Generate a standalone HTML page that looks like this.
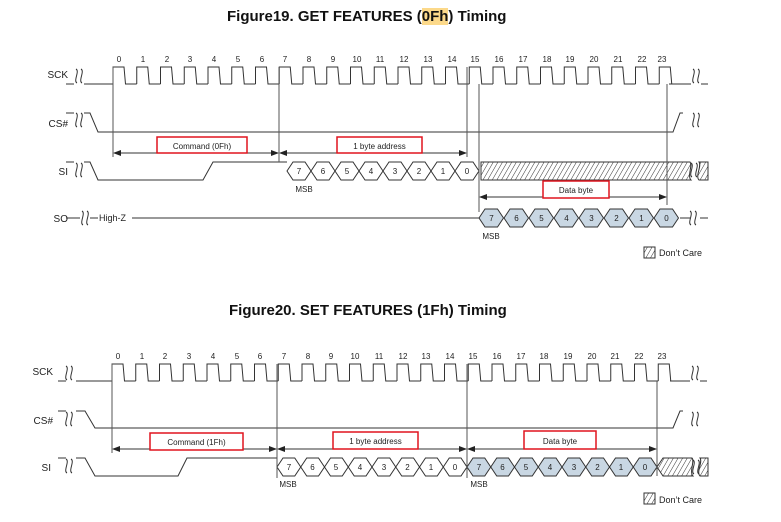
<!DOCTYPE html>
<html><head><meta charset="utf-8"><style>
html,body{margin:0;padding:0;background:#fff;}
body{position:relative;width:781px;height:522px;overflow:hidden;}
svg{display:block;font-family:"Liberation Sans",sans-serif;}
.t{font-size:9px;fill:#222;}
.n{font-size:8px;fill:#222;text-anchor:middle;}
.lb{font-size:10px;fill:#222;text-anchor:end;}
.ti{position:absolute;font-family:"Liberation Sans",sans-serif;font-size:15px;font-weight:bold;color:#111;line-height:18px;white-space:nowrap;}
.hl{background:#fcd98a;}
</style></head><body>
<div class="ti" style="left:227px;top:8px;">Figure19.  GET FEATURES (<span class="hl">0Fh</span>) Timing</div>
<div class="ti" style="left:229px;top:302px;">Figure20. SET FEATURES (1Fh) Timing</div>
<svg width="781" height="522" viewBox="0 0 781 522" xmlns="http://www.w3.org/2000/svg">
<defs>
<pattern id="h" width="4" height="4" patternUnits="userSpaceOnUse" patternTransform="rotate(30)">
<rect width="4" height="4" fill="#fff"/><line x1="0" y1="0" x2="0" y2="4" stroke="#333" stroke-width="1"/></pattern>
<marker id="a" markerWidth="8" markerHeight="6" refX="7" refY="3" orient="auto-start-reverse" markerUnits="userSpaceOnUse"><path d="M0,0 L8,3 L0,6z" fill="#222"/></marker>
<path id="clk" d="M0,17 v-17 h11 l1.5,17 h11.25" fill="none" stroke="#333" stroke-width="1"/>
<path id="brk" d="M0,-7 c4,2 -3,12 1,14 M5,-7 c4,2 -3,12 1,14" fill="none" stroke="#333" stroke-width="1"/>
<polygon id="hx" points="0,0 6,-9 18,-9 24,0 18,9 6,9" fill="#fff" stroke="#333" stroke-width="1"/>
<polygon id="hxf" points="0,0 6,-9 18.5,-9 24.5,0 18.5,9 6,9" fill="#c9d7e3" stroke="#333" stroke-width="1"/>
<polygon id="hxb" points="0,0 6,-9 17.75,-9 23.75,0 17.75,9 6,9" fill="#fff" stroke="#333" stroke-width="1"/>
<polygon id="hxbf" points="0,0 6,-9 17.75,-9 23.75,0 17.75,9 6,9" fill="#c9d7e3" stroke="#333" stroke-width="1"/>
</defs>

<g stroke="#333" stroke-width="1" fill="none">
<!-- TOP -->
<text class="lb" x="68" y="78" stroke="none">SCK</text>
<text class="lb" x="68" y="127" stroke="none">CS#</text>
<text class="lb" x="68" y="175" stroke="none">SI</text>
<text class="lb" x="68" y="222" stroke="none">SO</text>
<path d="M66,84 h8 M84,84 H113"/>
<use href="#brk" x="76" y="76"/>
<g transform="translate(113,67)">
<use href="#clk" x="0"/><use href="#clk" x="23.75"/><use href="#clk" x="47.5"/><use href="#clk" x="71.25"/><use href="#clk" x="95"/><use href="#clk" x="118.75"/><use href="#clk" x="142.5"/><use href="#clk" x="166.25"/><use href="#clk" x="190"/><use href="#clk" x="213.75"/><use href="#clk" x="237.5"/><use href="#clk" x="261.25"/><use href="#clk" x="285"/><use href="#clk" x="308.75"/><use href="#clk" x="332.5"/><use href="#clk" x="356.25"/><use href="#clk" x="380"/><use href="#clk" x="403.75"/><use href="#clk" x="427.5"/><use href="#clk" x="451.25"/><use href="#clk" x="475"/><use href="#clk" x="498.75"/><use href="#clk" x="522.5"/><use href="#clk" x="546.25"/>
</g>
<path d="M669,84 H691 M701,84 h7"/><use href="#brk" x="693" y="76"/>
<path d="M66,113 h8 M84,113 h6 l8,19 H673 l7,-19 h3"/>
<use href="#brk" x="76" y="120"/><use href="#brk" x="693" y="120"/>
<path d="M66,162 h8 M84,162 h6 l8,18 H203 l10,-18 H287"/>
<use href="#brk" x="76" y="170"/>
<g transform="translate(287,171)"><use href="#hx" x="0"/><use href="#hx" x="24"/><use href="#hx" x="48"/><use href="#hx" x="72"/><use href="#hx" x="96"/><use href="#hx" x="120"/><use href="#hx" x="144"/><use href="#hx" x="168"/></g>
<path d="M481,162 H690 c3,3 -3,14 1,18 H481 Z" fill="url(#h)"/>
<path d="M699,162 H708 V180 H699 c-4,-4 3,-14 0,-18 Z" fill="url(#h)"/>
<use href="#brk" x="691" y="170"/>
<use href="#brk" x="82" y="218"/>
<path d="M66,218 h14 M90,218 h8 M132,218 H479"/>
<text x="99" y="221" class="t" stroke="none">High-Z</text>
<g transform="translate(479,218)"><use href="#hxf" x="0"/><use href="#hxf" x="25"/><use href="#hxf" x="50"/><use href="#hxf" x="75"/><use href="#hxf" x="100"/><use href="#hxf" x="125"/><use href="#hxf" x="150"/><use href="#hxf" x="175"/></g>
<path d="M680,218 h10 M700,218 h8"/><use href="#brk" x="690" y="218"/>
<path d="M113,67 V157 M279,67 V162 M467,67 V157 M479,84 V212 M667,84 V205" stroke="#555"/>
<path d="M114,153 H278" marker-start="url(#a)" marker-end="url(#a)"/>
<path d="M280,153 H466" marker-start="url(#a)" marker-end="url(#a)"/>
<path d="M480,197 H666" marker-start="url(#a)" marker-end="url(#a)"/>
<rect x="157" y="137" width="90" height="16" stroke="#e0141e" stroke-width="1.5" fill="#fff"/>
<rect x="337" y="137" width="85" height="16" stroke="#e0141e" stroke-width="1.5" fill="#fff"/>
<rect x="543" y="181" width="66" height="17" stroke="#e0141e" stroke-width="1.5" fill="#fff"/>
<rect x="644" y="247" width="11" height="11" fill="url(#h)"/>

<!-- BOTTOM -->
<text class="lb" x="53" y="375" stroke="none">SCK</text>
<text class="lb" x="53" y="424" stroke="none">CS#</text>
<text class="lb" x="51" y="471" stroke="none">SI</text>
<path d="M58,381 h8 M76,381 H112"/>
<use href="#brk" x="66" y="373"/>
<g transform="translate(112,364)">
<use href="#clk" x="0"/><use href="#clk" x="23.75"/><use href="#clk" x="47.5"/><use href="#clk" x="71.25"/><use href="#clk" x="95"/><use href="#clk" x="118.75"/><use href="#clk" x="142.5"/><use href="#clk" x="166.25"/><use href="#clk" x="190"/><use href="#clk" x="213.75"/><use href="#clk" x="237.5"/><use href="#clk" x="261.25"/><use href="#clk" x="285"/><use href="#clk" x="308.75"/><use href="#clk" x="332.5"/><use href="#clk" x="356.25"/><use href="#clk" x="380"/><use href="#clk" x="403.75"/><use href="#clk" x="427.5"/><use href="#clk" x="451.25"/><use href="#clk" x="475"/><use href="#clk" x="498.75"/><use href="#clk" x="522.5"/><use href="#clk" x="546.25"/>
</g>
<path d="M670,381 H690 M700,381 h7"/><use href="#brk" x="692" y="373"/>
<path d="M58,411 h8 M76,411 h9 l10,17 H673 l7,-17 h3"/>
<use href="#brk" x="66" y="419"/><use href="#brk" x="692" y="419"/>
<path d="M58,458 h8 M76,458 h9 l10,18 H178 l9,-18 H277"/>
<use href="#brk" x="66" y="466"/>
<g transform="translate(277,467)"><use href="#hxb" x="0"/><use href="#hxb" x="23.75"/><use href="#hxb" x="47.5"/><use href="#hxb" x="71.25"/><use href="#hxb" x="95"/><use href="#hxb" x="118.75"/><use href="#hxb" x="142.5"/><use href="#hxb" x="166.25"/>
<use href="#hxbf" x="190"/><use href="#hxbf" x="213.75"/><use href="#hxbf" x="237.5"/><use href="#hxbf" x="261.25"/><use href="#hxbf" x="285"/><use href="#hxbf" x="308.75"/><use href="#hxbf" x="332.5"/><use href="#hxbf" x="356.25"/></g>
<path d="M657,467 L663,458 H692 c3,3 -3,14 1,18 H663 Z" fill="url(#h)"/>
<path d="M700,458 H708 V476 H700 c-4,-4 3,-14 0,-18 Z" fill="url(#h)"/>
<use href="#brk" x="693" y="467"/>
<path d="M112,364 V453 M277,364 V478 M467,364 V478 M657,381 V476" stroke="#555"/>
<path d="M113,449 H276" marker-start="url(#a)" marker-end="url(#a)"/>
<path d="M278,449 H466" marker-start="url(#a)" marker-end="url(#a)"/>
<path d="M468,449 H656" marker-start="url(#a)" marker-end="url(#a)"/>
<rect x="150" y="433" width="93" height="17" stroke="#e0141e" stroke-width="1.5" fill="#fff"/>
<rect x="333" y="432" width="85" height="17" stroke="#e0141e" stroke-width="1.5" fill="#fff"/>
<rect x="524" y="431" width="72" height="18" stroke="#e0141e" stroke-width="1.5" fill="#fff"/>
<rect x="644" y="493" width="11" height="11" fill="url(#h)"/>
</g>

<g class="n">
<text x="119" y="62">0</text><text x="143" y="62">1</text><text x="167" y="62">2</text><text x="190" y="62">3</text><text x="214" y="62">4</text><text x="238" y="62">5</text><text x="262" y="62">6</text><text x="285" y="62">7</text><text x="309" y="62">8</text><text x="333" y="62">9</text><text x="357" y="62">10</text><text x="380" y="62">11</text><text x="404" y="62">12</text><text x="428" y="62">13</text><text x="452" y="62">14</text><text x="475" y="62">15</text><text x="499" y="62">16</text><text x="523" y="62">17</text><text x="547" y="62">18</text><text x="570" y="62">19</text><text x="594" y="62">20</text><text x="618" y="62">21</text><text x="642" y="62">22</text><text x="662" y="62">23</text>
<text x="299" y="174">7</text><text x="323" y="174">6</text><text x="347" y="174">5</text><text x="371" y="174">4</text><text x="395" y="174">3</text><text x="419" y="174">2</text><text x="443" y="174">1</text><text x="467" y="174">0</text>
<text x="304" y="192">MSB</text>
<text x="491.5" y="221">7</text><text x="516.5" y="221">6</text><text x="541.5" y="221">5</text><text x="566.5" y="221">4</text><text x="591.5" y="221">3</text><text x="616.5" y="221">2</text><text x="641.5" y="221">1</text><text x="666.5" y="221">0</text>
<text x="491" y="239">MSB</text>
<text x="202" y="149">Command (0Fh)</text>
<text x="379.5" y="149">1 byte address</text>
<text x="576" y="193">Data byte</text>
</g>
<text x="659" y="256" class="t">Don’t Care</text>

<g class="n">
<text x="118" y="359">0</text><text x="142" y="359">1</text><text x="165" y="359">2</text><text x="189" y="359">3</text><text x="213" y="359">4</text><text x="237" y="359">5</text><text x="260" y="359">6</text><text x="284" y="359">7</text><text x="308" y="359">8</text><text x="331" y="359">9</text><text x="355" y="359">10</text><text x="379" y="359">11</text><text x="403" y="359">12</text><text x="426" y="359">13</text><text x="450" y="359">14</text><text x="473" y="359">15</text><text x="497" y="359">16</text><text x="521" y="359">17</text><text x="544" y="359">18</text><text x="568" y="359">19</text><text x="592" y="359">20</text><text x="615" y="359">21</text><text x="639" y="359">22</text><text x="662" y="359">23</text>
<text x="289" y="470">7</text><text x="312.5" y="470">6</text><text x="336" y="470">5</text><text x="360" y="470">4</text><text x="384" y="470">3</text><text x="407.5" y="470">2</text><text x="431" y="470">1</text><text x="455" y="470">0</text>
<text x="479" y="470">7</text><text x="502.5" y="470">6</text><text x="526" y="470">5</text><text x="550" y="470">4</text><text x="574" y="470">3</text><text x="597.5" y="470">2</text><text x="621" y="470">1</text><text x="645" y="470">0</text>
<text x="288" y="487">MSB</text><text x="479" y="487">MSB</text>
<text x="196.5" y="445">Command (1Fh)</text>
<text x="375.5" y="444">1 byte address</text>
<text x="560" y="444">Data byte</text>
</g>
<text x="659" y="503" class="t">Don’t Care</text>
</svg>
</body></html>
